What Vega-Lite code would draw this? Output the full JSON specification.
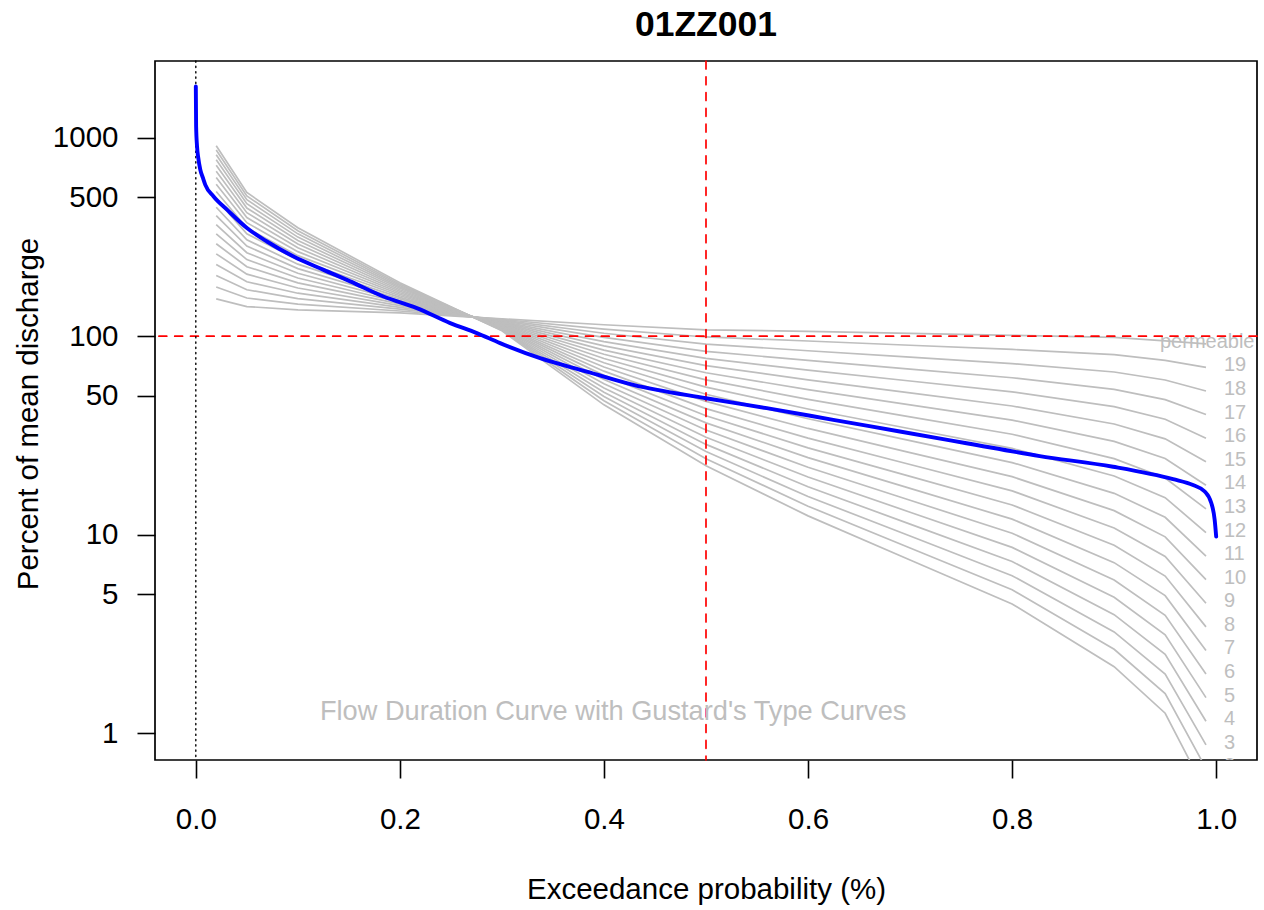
{
  "$schema": "https://vega.github.io/schema/vega-lite/v6.json",
  "autosize": {"type": "none"},
  "padding": {"left": 155, "top": 61, "right": 7, "bottom": 150},
  "width": 1102,
  "height": 699,
  "background": "white",
  "config": {"view": {"stroke": "black", "strokeWidth": 1.7}, "font": "Liberation Sans"},
  "title": {"text": "01ZZ001", "fontSize": 35.5, "font": "Liberation Sans", "fontWeight": "bold", "anchor": "middle", "baseline": "alphabetic", "offset": 24, "dy": 35, "color": "black"},
  "datasets": {
    "types": [
      {"type":"1","p":0.02,"q":911.6},{"type":"1","p":0.05,"q":530.0},{"type":"1","p":0.1,"q":351.9},{"type":"1","p":0.2,"q":185.8},{"type":"1","p":0.3,"q":106.5},{"type":"1","p":0.4,"q":45.11},{"type":"1","p":0.5,"q":22.23},{"type":"1","p":0.6,"q":12.44},{"type":"1","p":0.7,"q":7.464},{"type":"1","p":0.8,"q":4.479},{"type":"1","p":0.9,"q":2.163},{"type":"1","p":0.95,"q":1.260},{"type":"1","p":0.99,"q":0.5052},
      {"type":"2","p":0.02,"q":867.7},{"type":"2","p":0.05,"q":509.1},{"type":"2","p":0.1,"q":340.0},{"type":"2","p":0.2,"q":183.0},{"type":"2","p":0.3,"q":107.3},{"type":"2","p":0.4,"q":47.35},{"type":"2","p":0.5,"q":24.15},{"type":"2","p":0.6,"q":13.92},{"type":"2","p":0.7,"q":8.573},{"type":"2","p":0.8,"q":5.277},{"type":"2","p":0.9,"q":2.646},{"type":"2","p":0.95,"q":1.582},{"type":"2","p":0.99,"q":0.6644},
      {"type":"3","p":0.02,"q":821.9},{"type":"3","p":0.05,"q":487.5},{"type":"3","p":0.1,"q":328.0},{"type":"3","p":0.2,"q":180.2},{"type":"3","p":0.3,"q":108.1},{"type":"3","p":0.4,"q":49.74},{"type":"3","p":0.5,"q":26.24},{"type":"3","p":0.6,"q":15.58},{"type":"3","p":0.7,"q":9.845},{"type":"3","p":0.8,"q":6.218},{"type":"3","p":0.9,"q":3.236},{"type":"3","p":0.95,"q":1.986},{"type":"3","p":0.99,"q":0.8737},
      {"type":"4","p":0.02,"q":774.6},{"type":"4","p":0.05,"q":465.1},{"type":"4","p":0.1,"q":315.8},{"type":"4","p":0.2,"q":177.3},{"type":"4","p":0.3,"q":108.9},{"type":"4","p":0.4,"q":52.23},{"type":"4","p":0.5,"q":28.51},{"type":"4","p":0.6,"q":17.44},{"type":"4","p":0.7,"q":11.31},{"type":"4","p":0.8,"q":7.325},{"type":"4","p":0.9,"q":3.956},{"type":"4","p":0.95,"q":2.493},{"type":"4","p":0.99,"q":1.148},
      {"type":"5","p":0.02,"q":726.6},{"type":"5","p":0.05,"q":442.5},{"type":"5","p":0.1,"q":303.5},{"type":"5","p":0.2,"q":174.4},{"type":"5","p":0.3,"q":109.6},{"type":"5","p":0.4,"q":54.83},{"type":"5","p":0.5,"q":30.98},{"type":"5","p":0.6,"q":19.53},{"type":"5","p":0.7,"q":12.98},{"type":"5","p":0.8,"q":8.632},{"type":"5","p":0.9,"q":4.836},{"type":"5","p":0.95,"q":3.129},{"type":"5","p":0.99,"q":1.510},
      {"type":"6","p":0.02,"q":678.3},{"type":"6","p":0.05,"q":419.4},{"type":"6","p":0.1,"q":291.3},{"type":"6","p":0.2,"q":171.5},{"type":"6","p":0.3,"q":110.4},{"type":"6","p":0.4,"q":57.58},{"type":"6","p":0.5,"q":33.67},{"type":"6","p":0.6,"q":21.85},{"type":"6","p":0.7,"q":14.91},{"type":"6","p":0.8,"q":10.17},{"type":"6","p":0.9,"q":5.914},{"type":"6","p":0.95,"q":3.928},{"type":"6","p":0.99,"q":1.986},
      {"type":"7","p":0.02,"q":630.3},{"type":"7","p":0.05,"q":396.3},{"type":"7","p":0.1,"q":279.0},{"type":"7","p":0.2,"q":168.6},{"type":"7","p":0.3,"q":111.2},{"type":"7","p":0.4,"q":60.47},{"type":"7","p":0.5,"q":36.58},{"type":"7","p":0.6,"q":24.46},{"type":"7","p":0.7,"q":17.12},{"type":"7","p":0.8,"q":11.98},{"type":"7","p":0.9,"q":7.231},{"type":"7","p":0.95,"q":4.931},{"type":"7","p":0.99,"q":2.611},
      {"type":"8","p":0.02,"q":582.6},{"type":"8","p":0.05,"q":373.3},{"type":"8","p":0.1,"q":266.8},{"type":"8","p":0.2,"q":165.7},{"type":"8","p":0.3,"q":112.1},{"type":"8","p":0.4,"q":63.50},{"type":"8","p":0.5,"q":39.76},{"type":"8","p":0.6,"q":27.37},{"type":"8","p":0.7,"q":19.66},{"type":"8","p":0.8,"q":14.12},{"type":"8","p":0.9,"q":8.841},{"type":"8","p":0.95,"q":6.188},{"type":"8","p":0.99,"q":3.431},
      {"type":"9","p":0.02,"q":535.8},{"type":"9","p":0.05,"q":350.5},{"type":"9","p":0.1,"q":254.7},{"type":"9","p":0.2,"q":162.8},{"type":"9","p":0.3,"q":112.9},{"type":"9","p":0.4,"q":66.68},{"type":"9","p":0.5,"q":43.19},{"type":"9","p":0.6,"q":30.64},{"type":"9","p":0.7,"q":22.58},{"type":"9","p":0.8,"q":16.63},{"type":"9","p":0.9,"q":10.81},{"type":"9","p":0.95,"q":7.770},{"type":"9","p":0.99,"q":4.512},
      {"type":"10","p":0.02,"q":490.4},{"type":"10","p":0.05,"q":327.9},{"type":"10","p":0.1,"q":242.7},{"type":"10","p":0.2,"q":159.9},{"type":"10","p":0.3,"q":113.7},{"type":"10","p":0.4,"q":70.00},{"type":"10","p":0.5,"q":46.93},{"type":"10","p":0.6,"q":34.30},{"type":"10","p":0.7,"q":25.93},{"type":"10","p":0.8,"q":19.60},{"type":"10","p":0.9,"q":13.22},{"type":"10","p":0.95,"q":9.754},{"type":"10","p":0.99,"q":5.932},
      {"type":"11","p":0.02,"q":446.7},{"type":"11","p":0.05,"q":305.8},{"type":"11","p":0.1,"q":230.7},{"type":"11","p":0.2,"q":157.0},{"type":"11","p":0.3,"q":114.6},{"type":"11","p":0.4,"q":73.53},{"type":"11","p":0.5,"q":51.00},{"type":"11","p":0.6,"q":38.39},{"type":"11","p":0.7,"q":29.78},{"type":"11","p":0.8,"q":23.09},{"type":"11","p":0.9,"q":16.16},{"type":"11","p":0.95,"q":12.24},{"type":"11","p":0.99,"q":7.800},
      {"type":"12","p":0.02,"q":404.7},{"type":"12","p":0.05,"q":284.4},{"type":"12","p":0.1,"q":219.1},{"type":"12","p":0.2,"q":154.1},{"type":"12","p":0.3,"q":115.4},{"type":"12","p":0.4,"q":77.21},{"type":"12","p":0.5,"q":55.42},{"type":"12","p":0.6,"q":42.98},{"type":"12","p":0.7,"q":34.19},{"type":"12","p":0.8,"q":27.20},{"type":"12","p":0.9,"q":19.77},{"type":"12","p":0.95,"q":15.37},{"type":"12","p":0.99,"q":10.25},
      {"type":"13","p":0.02,"q":365.0},{"type":"13","p":0.05,"q":263.5},{"type":"13","p":0.1,"q":207.7},{"type":"13","p":0.2,"q":151.2},{"type":"13","p":0.3,"q":116.3},{"type":"13","p":0.4,"q":81.09},{"type":"13","p":0.5,"q":60.22},{"type":"13","p":0.6,"q":48.10},{"type":"13","p":0.7,"q":39.26},{"type":"13","p":0.8,"q":32.06},{"type":"13","p":0.9,"q":24.16},{"type":"13","p":0.95,"q":19.30},{"type":"13","p":0.99,"q":13.49},
      {"type":"14","p":0.02,"q":327.6},{"type":"14","p":0.05,"q":243.4},{"type":"14","p":0.1,"q":196.5},{"type":"14","p":0.2,"q":148.3},{"type":"14","p":0.3,"q":117.1},{"type":"14","p":0.4,"q":85.13},{"type":"14","p":0.5,"q":65.44},{"type":"14","p":0.6,"q":53.83},{"type":"14","p":0.7,"q":45.10},{"type":"14","p":0.8,"q":37.76},{"type":"14","p":0.9,"q":29.54},{"type":"14","p":0.95,"q":24.22},{"type":"14","p":0.99,"q":17.73},
      {"type":"15","p":0.02,"q":292.5},{"type":"15","p":0.05,"q":224.0},{"type":"15","p":0.1,"q":185.6},{"type":"15","p":0.2,"q":145.4},{"type":"15","p":0.3,"q":118.0},{"type":"15","p":0.4,"q":89.43},{"type":"15","p":0.5,"q":71.11},{"type":"15","p":0.6,"q":60.26},{"type":"15","p":0.7,"q":51.80},{"type":"15","p":0.8,"q":44.50},{"type":"15","p":0.9,"q":36.13},{"type":"15","p":0.95,"q":30.41},{"type":"15","p":0.99,"q":23.31},
      {"type":"16","p":0.02,"q":260.0},{"type":"16","p":0.05,"q":205.6},{"type":"16","p":0.1,"q":175.0},{"type":"16","p":0.2,"q":142.5},{"type":"16","p":0.3,"q":118.8},{"type":"16","p":0.4,"q":93.89},{"type":"16","p":0.5,"q":77.27},{"type":"16","p":0.6,"q":67.45},{"type":"16","p":0.7,"q":59.48},{"type":"16","p":0.8,"q":52.43},{"type":"16","p":0.9,"q":44.17},{"type":"16","p":0.95,"q":38.17},{"type":"16","p":0.99,"q":30.64},
      {"type":"17","p":0.02,"q":229.8},{"type":"17","p":0.05,"q":188.1},{"type":"17","p":0.1,"q":164.7},{"type":"17","p":0.2,"q":139.7},{"type":"17","p":0.3,"q":119.7},{"type":"17","p":0.4,"q":98.58},{"type":"17","p":0.5,"q":83.96},{"type":"17","p":0.6,"q":75.49},{"type":"17","p":0.7,"q":68.29},{"type":"17","p":0.8,"q":61.78},{"type":"17","p":0.9,"q":54.01},{"type":"17","p":0.95,"q":47.92},{"type":"17","p":0.99,"q":40.30},
      {"type":"18","p":0.02,"q":202.3},{"type":"18","p":0.05,"q":171.5},{"type":"18","p":0.1,"q":154.7},{"type":"18","p":0.2,"q":136.8},{"type":"18","p":0.3,"q":120.6},{"type":"18","p":0.4,"q":103.5},{"type":"18","p":0.5,"q":91.22},{"type":"18","p":0.6,"q":84.49},{"type":"18","p":0.7,"q":78.42},{"type":"18","p":0.8,"q":72.78},{"type":"18","p":0.9,"q":66.04},{"type":"18","p":0.95,"q":60.16},{"type":"18","p":0.99,"q":52.97},
      {"type":"19","p":0.02,"q":177.1},{"type":"19","p":0.05,"q":155.8},{"type":"19","p":0.1,"q":145.1},{"type":"19","p":0.2,"q":134.0},{"type":"19","p":0.3,"q":121.5},{"type":"19","p":0.4,"q":108.7},{"type":"19","p":0.5,"q":99.13},{"type":"19","p":0.6,"q":94.58},{"type":"19","p":0.7,"q":90.06},{"type":"19","p":0.8,"q":85.76},{"type":"19","p":0.9,"q":80.75},{"type":"19","p":0.95,"q":75.51},{"type":"19","p":0.99,"q":69.65},
      {"type":"permeable","p":0.02,"q":154.3},{"type":"permeable","p":0.05,"q":141.1},{"type":"permeable","p":0.1,"q":135.9},{"type":"permeable","p":0.2,"q":131.2},{"type":"permeable","p":0.3,"q":122.4},{"type":"permeable","p":0.4,"q":114.2},{"type":"permeable","p":0.5,"q":107.7},{"type":"permeable","p":0.6,"q":105.9},{"type":"permeable","p":0.7,"q":103.4},{"type":"permeable","p":0.8,"q":101.0},{"type":"permeable","p":0.9,"q":98.74},{"type":"permeable","p":0.95,"q":94.80},{"type":"permeable","p":0.99,"q":91.56}
    ],
    "fdc": [
      {"p": 0, "q": 1814}, {"p": 0.0003, "q": 1140}, {"p": 0.0012, "q": 904}, {"p": 0.0024, "q": 793}, {"p": 0.0044, "q": 690}, {"p": 0.0069, "q": 629}, {"p": 0.0093, "q": 579}, {"p": 0.0174, "q": 506}, {"p": 0.0306, "q": 434}, {"p": 0.0501, "q": 351}, {"p": 0.0697, "q": 300}, {"p": 0.0958, "q": 252}, {"p": 0.1252, "q": 216}, {"p": 0.1513, "q": 189}, {"p": 0.1839, "q": 158.5}, {"p": 0.2166, "q": 138.6}, {"p": 0.2493, "q": 116.4}, {"p": 0.2754, "q": 103.7}, {"p": 0.2982, "q": 92.3}, {"p": 0.3374, "q": 77.5}, {"p": 0.3831, "q": 66.4}, {"p": 0.4288, "q": 56.9}, {"p": 0.5, "q": 48.7}, {"p": 0.5595, "q": 43.4}, {"p": 0.6247, "q": 37.9}, {"p": 0.69, "q": 33.1}, {"p": 0.7553, "q": 28.9}, {"p": 0.8271, "q": 24.9}, {"p": 0.8989, "q": 22.0}, {"p": 0.9577, "q": 19.05}, {"p": 0.9773, "q": 17.8}, {"p": 0.9888, "q": 16.5}, {"p": 0.9953, "q": 14.4}, {"p": 0.9985, "q": 11.9}, {"p": 1.0, "q": 9.78}
    ],
    "hline": [{"q": 100}],
    "vline": [{"p": 0.5}],
    "zline": [{"p": 0}],
    "note": [{"p": 0.409, "q": 1.28, "label": "Flow Duration Curve with Gustard's Type Curves"}]
  },
  "layer": [
    {
      "data": {"name": "types"},
      "mark": {"type": "line", "color": "#bebebe", "strokeWidth": 1.7, "clip": true},
      "encoding": {
        "x": {"field": "p", "type": "quantitative", "scale": {"domain": [-0.04, 1.04], "nice": false, "zero": false},
          "axis": {"values": [0, 0.2, 0.4, 0.6, 0.8, 1], "format": ".1f", "domain": false, "grid": false, "tickSize": 18, "tickColor": "black", "tickWidth": 1.6, "labelFontSize": 29.5, "labelFont": "Liberation Sans", "labelColor": "black", "labelPadding": 27, "labelFlush": false, "labelOverlap": false, "title": "Exceedance probability (%)", "titleFont": "Liberation Sans", "titleFontSize": 29.5, "titleFontWeight": "normal", "titleColor": "black", "titleBaseline": "alphabetic", "titleAlign": "center", "titleX": 551, "titleY": 138}},
        "y": {"field": "q", "type": "quantitative", "scale": {"type": "log", "domain": [0.7325, 2436], "nice": false},
          "axis": {"values": [1, 5, 10, 50, 100, 500, 1000], "format": "d", "domain": false, "grid": false, "tickSize": 18, "tickColor": "black", "tickWidth": 1.6, "labelFontSize": 29.5, "labelFont": "Liberation Sans", "labelColor": "black", "labelPadding": 19, "labelFlush": false, "labelOverlap": false, "title": "Percent of mean discharge", "titleFont": "Liberation Sans", "titleFontSize": 29.5, "titleFontWeight": "normal", "titleColor": "black", "titleAngle": 270, "titleBaseline": "alphabetic", "titleAlign": "center", "titleX": -117.5, "titleY": 352.5}},
        "detail": {"field": "type"}
      }
    },
    {
      "data": {"name": "types"},
      "transform": [{"filter": "datum.p == 0.99 && datum.type != 'permeable'"}],
      "mark": {"type": "text", "align": "left", "baseline": "middle", "dx": 18, "dy": -2, "fontSize": 20, "color": "#bebebe", "font": "Liberation Sans", "clip": true},
      "encoding": {
        "x": {"field": "p", "type": "quantitative", "scale": {"domain": [-0.04, 1.04], "nice": false, "zero": false}},
        "y": {"field": "q", "type": "quantitative", "scale": {"type": "log", "domain": [0.7325, 2436], "nice": false}},
        "text": {"field": "type"}
      }
    },
    {
      "data": {"name": "types"},
      "transform": [{"filter": "datum.p == 0.99 && datum.type == 'permeable'"}],
      "mark": {"type": "text", "align": "left", "baseline": "middle", "dx": -46, "dy": -2, "fontSize": 20, "color": "#bebebe", "font": "Liberation Sans", "clip": true},
      "encoding": {
        "x": {"field": "p", "type": "quantitative", "scale": {"domain": [-0.04, 1.04], "nice": false, "zero": false}},
        "y": {"field": "q", "type": "quantitative", "scale": {"type": "log", "domain": [0.7325, 2436], "nice": false}},
        "text": {"field": "type"}
      }
    },
    {
      "data": {"name": "hline"},
      "mark": {"type": "rule", "color": "red", "strokeWidth": 1.7, "strokeDash": [7.9, 7.9], "strokeCap": "round"},
      "encoding": {"y": {"field": "q", "type": "quantitative", "scale": {"type": "log", "domain": [0.7325, 2436], "nice": false}}}
    },
    {
      "data": {"name": "vline"},
      "mark": {"type": "rule", "color": "red", "strokeWidth": 1.7, "strokeDash": [7.9, 7.9], "strokeCap": "round"},
      "encoding": {"x": {"field": "p", "type": "quantitative", "scale": {"domain": [-0.04, 1.04], "nice": false, "zero": false}}}
    },
    {
      "data": {"name": "zline"},
      "mark": {"type": "rule", "color": "black", "strokeWidth": 1.4, "strokeDash": [1.3, 4], "strokeCap": "round"},
      "encoding": {"x": {"field": "p", "type": "quantitative", "scale": {"domain": [-0.04, 1.04], "nice": false, "zero": false}}}
    },
    {
      "data": {"name": "fdc"},
      "mark": {"type": "line", "color": "blue", "strokeWidth": 3.9, "strokeJoin": "round", "strokeCap": "round", "interpolate": "monotone", "clip": true},
      "encoding": {
        "x": {"field": "p", "type": "quantitative", "scale": {"domain": [-0.04, 1.04], "nice": false, "zero": false}},
        "y": {"field": "q", "type": "quantitative", "scale": {"type": "log", "domain": [0.7325, 2436], "nice": false}}
      }
    },
    {
      "data": {"name": "note"},
      "mark": {"type": "text", "align": "center", "baseline": "middle", "fontSize": 27.2, "color": "#bebebe", "font": "Liberation Sans"},
      "encoding": {
        "x": {"field": "p", "type": "quantitative", "scale": {"domain": [-0.04, 1.04], "nice": false, "zero": false}},
        "y": {"field": "q", "type": "quantitative", "scale": {"type": "log", "domain": [0.7325, 2436], "nice": false}},
        "text": {"field": "label"}
      }
    }
  ]
}
